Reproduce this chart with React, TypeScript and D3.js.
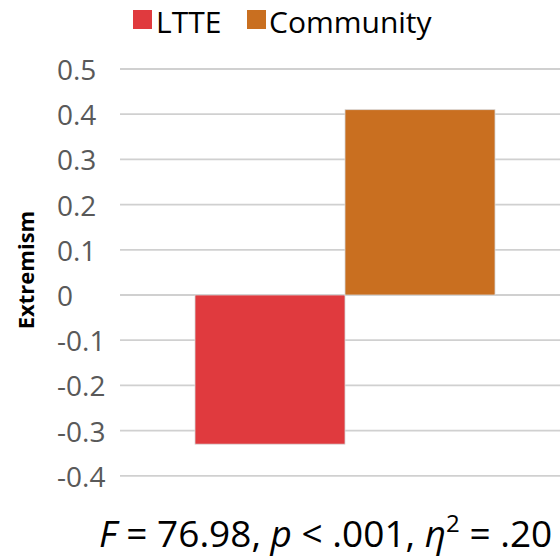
import React from "react";
import * as d3 from "d3";

const categories = ["Extremism"];
const seriesNames = ["LTTE", "Community"];
const seriesValues = [-0.33, 0.41];
const seriesColors = ["#E03A3E", "#C96F20"];
const yTicks = [0.5, 0.4, 0.3, 0.2, 0.1, 0, -0.1, -0.2, -0.3, -0.4];
const yTickLabels = ["0.5", "0.4", "0.3", "0.2", "0.1", "0", "-0.1", "-0.2", "-0.3", "-0.4"];
const yLabel = "Extremism";

const W = 560;
const H = 556;
const FONT = "'Open Sans', 'Noto Sans', sans-serif";

export default function App() {
  const y = d3.scaleLinear().domain([-0.4, 0.5]).range([475.8, 69]);
  const x0 = d3.scaleBand<string>().domain(categories).range([120, 570]).paddingInner(1 / 3).paddingOuter(1 / 6);
  const x1 = d3.scaleBand<string>().domain(seriesNames).range([0, x0.bandwidth()]).padding(0);

  return (
    <div style={{ position: "fixed", left: 0, top: 0 }}>
      <svg width={W} height={H} style={{ display: "block", background: "#fff" }}>
        {/* gridlines */}
        {yTicks.map((t) => (
          <line key={"g" + t} x1={120} x2={W} y1={y(t)} y2={y(t)} stroke="#d0d0d0" strokeWidth={1.8} />
        ))}
        {/* tick labels */}
        {yTicks.map((t, i) => (
          <text key={"t" + t} x={57} y={y(t) + 11} fontFamily={FONT} fontSize={28} fill="#595959">
            {yTickLabels[i]}
          </text>
        ))}
        {/* bars */}
        {categories.map((c) =>
          seriesNames.map((s, i) => {
            const v = seriesValues[i];
            const bx = (x0(c) ?? 0) + (x1(s) ?? 0);
            const top = y(Math.max(0, v));
            const bot = y(Math.min(0, v));
            return (
              <rect key={c + s} x={bx} y={top} width={x1.bandwidth()} height={bot - top}
                fill={seriesColors[i]} stroke="#d8d8d8" strokeWidth={0.8} />
            );
          })
        )}
        {/* y label */}
        <text transform={`translate(34, 270) rotate(-90)`} textAnchor="middle" fontFamily={FONT}
          fontWeight="bold" fontSize={22} fill="#000">
          {yLabel}
        </text>
        {/* legend */}
        <rect x={133} y={10} width={19} height={19} fill={seriesColors[0]} />
        <text x={156} y={33} fontFamily={FONT} fontSize={30} fill="#000">{seriesNames[0]}</text>
        <rect x={247} y={10} width={19} height={19} fill={seriesColors[1]} />
        <text x={269} y={33} fontFamily={FONT} fontSize={30} fill="#000">{seriesNames[1]}</text>
        {/* bottom stats */}
        <text x={99} y={547} fontFamily={FONT} fontSize={37} fill="#000">
          <tspan fontStyle="italic">F</tspan>
          <tspan>{" = 76.98, "}</tspan>
          <tspan fontStyle="italic">p</tspan>
          <tspan>{" < .001, "}</tspan>
          <tspan fontStyle="italic">η</tspan>
          <tspan fontSize={24} dy={-15}>2</tspan>
          <tspan dy={15}>{" = .20"}</tspan>
        </text>
      </svg>
    </div>
  );
}
